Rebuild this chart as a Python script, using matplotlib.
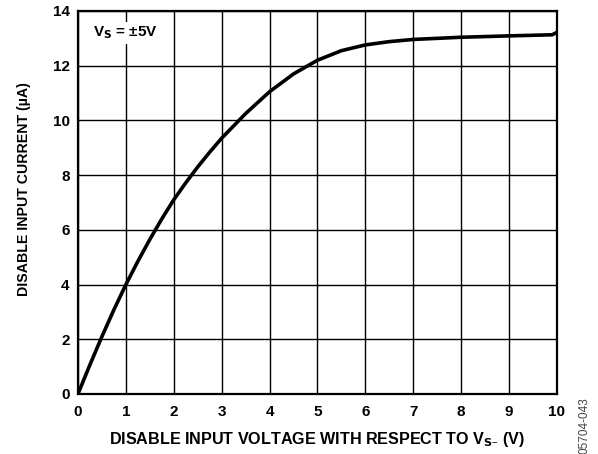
import matplotlib
matplotlib.use("Agg")
import matplotlib.pyplot as plt

plt.rcParams['font.family'] = ['Liberation Sans', 'DejaVu Sans']
plt.rcParams['font.weight'] = 'bold'

# disable pin voltage (V) vs. disable input current (uA)
voltage = [0, 0.25, 0.5, 0.75, 1.0, 1.25, 1.5, 1.75, 2.0, 2.25, 2.5, 2.75,
           3.0, 3.5, 4.0, 4.5, 5.0, 5.5, 6.0, 6.5, 7.0, 8.0, 9.0, 9.9, 10.0]
current = [0, 1.07, 2.1, 3.08, 4.0, 4.85, 5.65, 6.4, 7.1, 7.72, 8.3, 8.84,
           9.35, 10.25, 11.05, 11.7, 12.2, 12.55, 12.76, 12.88, 12.96, 13.04,
           13.09, 13.13, 13.22]

x_ticks = list(range(0, 11))
y_ticks = [0, 2, 4, 6, 8, 10, 12, 14]

fig = plt.figure(figsize=(5.98, 4.54), dpi=100)
ax = fig.add_axes([0.1304, 0.1322, 0.801, 0.8436])

ax.plot(voltage, current, color='black', lw=2.6, solid_capstyle='round',
        solid_joinstyle='round', zorder=3)

ax.set_xlim(0, 10)
ax.set_ylim(0, 14)
ax.set_xticks(x_ticks)
ax.set_yticks(y_ticks)
ax.tick_params(length=0, labelsize=11)
ax.tick_params(axis='x', pad=8)
ax.tick_params(axis='y', pad=6)
for lbl in ax.get_xticklabels() + ax.get_yticklabels():
    lbl.set_fontweight('bold')
ax.grid(True, color='black', lw=1.0)
for s in ax.spines.values():
    s.set_linewidth(1.6)

ax.set_xlabel('DISABLE INPUT VOLTAGE WITH RESPECT TO V$_{\\mathbf{S–}}$ (V)',
              fontsize=11.6, fontweight='bold', labelpad=8)
ax.set_ylabel('DISABLE INPUT CURRENT (µA)', fontsize=10.2, fontweight='bold')
ax.yaxis.set_label_coords(-0.098, 0.535)

ax.text(0.31, 13.2, 'V$_{\\mathbf{S}}$ = ±5V', fontsize=11, fontweight='bold',
        va='center', ha='left', zorder=4,
        bbox=dict(facecolor='white', edgecolor='none', pad=2))

fig.text(0.978, 0.1256, '05704-043', rotation=90, fontsize=8.5, color='#444444',
         fontweight='normal', ha='center', va='top')

fig.savefig('out.png', dpi=100)
